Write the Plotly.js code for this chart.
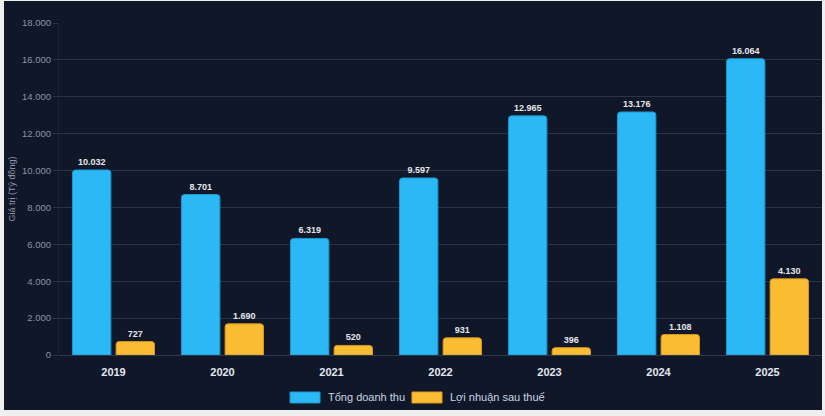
<!DOCTYPE html>
<html>
<head>
<meta charset="utf-8">
<script src="https://cdn.plot.ly/plotly-3.0.1.min.js"></script>
<style>
html,body{margin:0;padding:0;background:#efefef;}
#chart{position:absolute;left:4px;top:1px;width:818px;height:409px;}
</style>
</head>
<body>
<div id="chart"></div>
<script>
const years = ['2019','2020','2021','2022','2023','2024','2025'];
const revenue = [10032, 8701, 6319, 9597, 12965, 13176, 16064];
const profit = [727, 1690, 520, 931, 396, 1108, 4130];
const seriesNames = ['Tổng doanh thu', 'Lợi nhuận sau thuế'];
const seriesColors = ['#2bb8f5', '#fbbd33'];
const seriesLines = ['#1a98d0', '#d9981a'];
const yTitle = 'Giá trị (Tỷ đồng)';

const labelFont = {family: 'Liberation Sans, Arial, sans-serif', size: 9, color: '#e5e7eb', weight: 'bold'};

const traces = [revenue, profit].map((vals, i) => ({
  type: 'bar', name: seriesNames[i], x: years, y: vals,
  marker: {color: seriesColors[i], line: {color: seriesLines[i], width: 1}, cornerradius: 3},
  texttemplate: '<b>%{y:,}</b>', textposition: 'outside', textfont: labelFont,
  cliponaxis: false, hoverinfo: 'x+y', showlegend: false
}));

// custom legend (wide swatches like the reference)
const legX = [[0.3028, 0.3421, 0.3499], [0.4626, 0.5020, 0.5098]];
const shapes = [];
const annotations = [];
seriesNames.forEach((n, i) => {
  shapes.push({type: 'rect', xref: 'paper', yref: 'paper',
    x0: legX[i][0], x1: legX[i][1], y0: -0.1446, y1: -0.1114,
    fillcolor: seriesColors[i], line: {color: seriesLines[i], width: 1}});
  annotations.push({xref: 'paper', yref: 'paper', x: legX[i][2], y: -0.128,
    xanchor: 'left', yanchor: 'middle', showarrow: false, text: n,
    font: {size: 11, color: '#cbd5e1'}});
});

const layout = {
  width: 818, height: 409,
  paper_bgcolor: '#0f1729', plot_bgcolor: '#0f1729',
  margin: {l: 55, r: 0, t: 22, b: 55, autoexpand: false},
  separators: ',.',
  barmode: 'group', bargap: 0.2, bargroupgap: 0.12,
  font: {family: 'Liberation Sans, Arial, sans-serif', color: '#94a3b8'},
  showlegend: false,
  shapes: shapes,
  annotations: annotations,
  xaxis: {
    type: 'category', showgrid: false, zeroline: false, showline: false,
    tickfont: {size: 11, color: '#e2e8f0', weight: 'bold'},
    ticks: 'outside', ticklen: 7, tickcolor: 'rgba(0,0,0,0)'
  },
  yaxis: {
    range: [0, 18000], dtick: 2000, tickformat: ',d',
    gridcolor: '#27344a', gridwidth: 1, zeroline: true, zerolinecolor: '#2c3a50',
    showline: true, linecolor: '#1a2538', linewidth: 1,
    ticks: 'outside', ticklen: 5, tickcolor: '#27344a',
    tickfont: {size: 9.5, color: '#8b95a7'},
    title: {text: yTitle, font: {size: 9, color: '#8b95a7'}, standoff: 4}
  }
};

Plotly.newPlot('chart', traces, layout, {displayModeBar: false, staticPlot: true});
</script>
</body>
</html>
